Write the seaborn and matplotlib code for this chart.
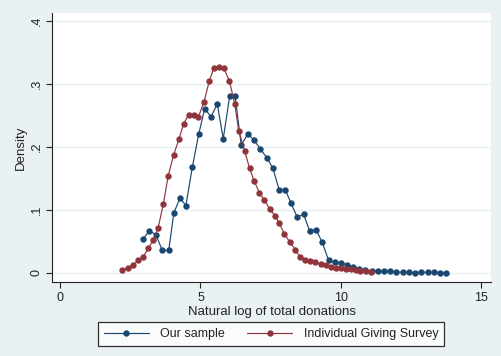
import matplotlib
matplotlib.use("Agg")
import matplotlib.pyplot as plt
import seaborn as sns
import pandas as pd

# Our sample
our_x = [2.96, 3.18, 3.41, 3.64, 3.87, 4.05, 4.27, 4.48, 4.71, 4.94,
         5.15, 5.37, 5.60, 5.81, 6.04, 6.23, 6.45, 6.69, 6.90, 7.13,
         7.36, 7.58, 7.80, 8.02, 8.22, 8.44, 8.67, 8.89, 9.11, 9.33,
         9.56, 9.78, 10.00, 10.22, 10.44, 10.65, 10.86, 11.09, 11.32, 11.53,
         11.74, 11.97, 12.20, 12.41, 12.63, 12.86, 13.09, 13.30, 13.52, 13.74]
our_y = [0.054, 0.067, 0.061, 0.036, 0.036, 0.095, 0.119, 0.107, 0.168, 0.221,
         0.261, 0.248, 0.268, 0.213, 0.281, 0.281, 0.203, 0.221, 0.211, 0.197,
         0.183, 0.166, 0.132, 0.132, 0.111, 0.089, 0.093, 0.066, 0.069, 0.049,
         0.020, 0.017, 0.016, 0.013, 0.010, 0.007, 0.004, 0.003, 0.003, 0.003,
         0.003, 0.002, 0.001, 0.001, 0.0005, 0.001, 0.0015, 0.0015, 0.0005, 0.0]

# Individual Giving Survey
igs_x = [2.22, 2.41, 2.59, 2.78, 2.95, 3.14, 3.32, 3.49, 3.68, 3.85,
         4.04, 4.23, 4.40, 4.58, 4.76, 4.92, 5.12, 5.31, 5.48, 5.65,
         5.82, 6.03, 6.22, 6.36, 6.57, 6.75, 6.91, 7.10, 7.27, 7.46,
         7.65, 7.80, 7.99, 8.18, 8.38, 8.54, 8.73, 8.91, 9.09, 9.28,
         9.47, 9.65, 9.82, 10.00, 10.18, 10.36, 10.53, 10.69, 10.88, 11.06]
igs_y = [0.005, 0.008, 0.012, 0.020, 0.025, 0.039, 0.052, 0.071, 0.110, 0.154,
         0.187, 0.212, 0.237, 0.251, 0.250, 0.247, 0.271, 0.304, 0.326, 0.327,
         0.326, 0.305, 0.268, 0.226, 0.194, 0.166, 0.146, 0.127, 0.116, 0.102,
         0.091, 0.079, 0.062, 0.049, 0.037, 0.025, 0.021, 0.019, 0.017, 0.014,
         0.012, 0.010, 0.008, 0.008, 0.007, 0.006, 0.004, 0.0035, 0.0024, 0.001]

x_ticks = [0, 5, 10, 15]
x_tick_labels = ["0", "5", "10", "15"]
y_ticks = [0, 0.1, 0.2, 0.3, 0.4]
y_tick_labels = ["0", ".1", ".2", ".3", ".4"]
series_names = ["Our sample", "Individual Giving Survey"]

sns.set_theme(style="white")
plt.rcParams["font.family"] = ["Liberation Sans", "DejaVu Sans"]

BG = "#e9f1f3"
NAVY = "#1a476f"
MAROON = "#90353b"

fig = plt.figure(figsize=(5.02, 3.56), dpi=100)
fig.patch.set_facecolor(BG)
W, H = 502, 356
ax = fig.add_axes([52 / W, 1 - 282 / H, (491 - 52) / W, (282 - 13) / H])
ax.set_facecolor("white")

df_our = pd.DataFrame({"x": our_x, "y": our_y})
df_igs = pd.DataFrame({"x": igs_x, "y": igs_y})

sns.lineplot(data=df_our, x="x", y="y", ax=ax, color=NAVY, marker="o",
             markersize=4.6, markeredgewidth=0, linewidth=0.85,
             label=series_names[0], sort=False, zorder=3)
sns.lineplot(data=df_igs, x="x", y="y", ax=ax, color=MAROON, marker="o",
             markersize=4.6, markeredgewidth=0, linewidth=0.85,
             label=series_names[1], sort=False, zorder=3)

ax.set_xlim(-0.285, 15.34)
ax.set_ylim(-0.0143, 0.4127)
ax.set_xticks(x_ticks)
ax.set_xticklabels(x_tick_labels)
ax.set_yticks(y_ticks)
ax.set_yticklabels(y_tick_labels, rotation=90, va="center")
for y in y_ticks:
    ax.axhline(y, color="#e6eef0", linewidth=1.0, zorder=1)

for s in ["top", "right"]:
    ax.spines[s].set_visible(False)
for s in ["left", "bottom"]:
    ax.spines[s].set_color("#222222")
    ax.spines[s].set_linewidth(0.8)

ax.tick_params(axis="both", which="both", direction="out", length=4.5,
               width=0.8, color="#222222", labelsize=9, labelcolor="#222222",
               left=True, bottom=True)
ax.tick_params(axis="x", pad=3)
ax.tick_params(axis="y", pad=2)

ax.set_xlabel("Natural log of total donations", fontsize=9.5, color="#222222", labelpad=1)
ax.set_ylabel("Density", fontsize=9.5, color="#222222", labelpad=3)

handles, labels = ax.get_legend_handles_labels()
ax.get_legend().remove()
leg = fig.legend(handles, labels, ncol=2, loc="center",
                 bbox_to_anchor=(271 / W, 1 - 334 / H),
                 frameon=True, fancybox=False, edgecolor="black",
                 facecolor="white", fontsize=9, handlelength=3.6,
                 columnspacing=1.8, handletextpad=0.9, borderpad=0.45,
                 numpoints=1)
leg.get_frame().set_linewidth(0.9)
for t in leg.get_texts():
    t.set_color("#222222")

fig.savefig("out.png", dpi=100, facecolor=BG)
